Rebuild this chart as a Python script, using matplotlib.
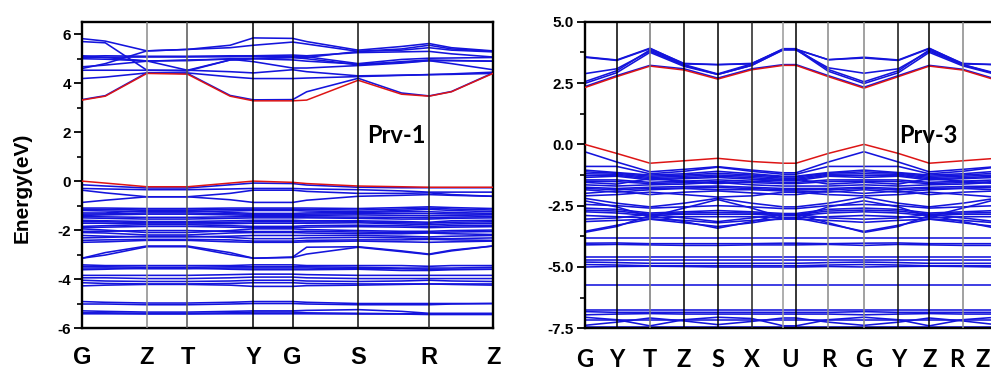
import matplotlib
matplotlib.use("Agg")
import matplotlib.pyplot as plt
from matplotlib.ticker import MultipleLocator, FormatStrFormatter

plt.rcParams['axes.unicode_minus'] = False

# ---- Prv-1 (left) : path positions G m Z T m Y G m S m R m Z
k_left = [0, 23.3, 65, 105.6, 148.3, 171.6, 211, 225, 276.6, 320, 347.6, 370, 411.6]
left_tick_idx = [0, 2, 3, 5, 6, 8, 10, 12]
left_labels = ['G', 'Z', 'T', 'Y', 'G', 'S', 'R', 'Z']
left_line_colors = ['#8a8a8a', '#555555', '#000000', '#000000', '#111111', '#222222']

left_cb_red = [3.31, 3.47, 4.40, 4.37, 3.47, 3.28, 3.28, 3.31, 4.12, 3.55, 3.47, 3.65, 4.40]
left_vb_red = [0.00, -0.08, -0.23, -0.23, -0.08, 0.00, -0.05, -0.10, -0.20, -0.23, -0.25, -0.25, -0.25]

left_cb = [
    [3.33, 3.49, 4.43, 4.40, 3.50, 3.32, 3.33, 3.65, 4.20, 3.60, 3.48, 3.66, 4.42],
    [4.19, 4.25, 4.42, 4.42, 4.26, 4.19, 4.19, 4.21, 4.27, 4.32, 4.35, 4.36, 4.40],
    [4.53, 4.53, 4.53, 4.53, 4.47, 4.42, 4.55, 4.47, 4.30, 4.33, 4.35, 4.38, 4.45],
    [4.67, 4.74, 4.90, 4.95, 4.98, 4.88, 4.62, 4.62, 4.72, 4.82, 4.92, 4.92, 4.90],
    [5.00, 4.98, 4.91, 4.92, 5.00, 5.02, 5.05, 5.00, 4.75, 4.88, 4.95, 4.93, 4.90],
    [5.05, 5.06, 5.07, 5.07, 5.08, 5.10, 5.10, 5.08, 4.80, 4.97, 5.02, 5.03, 5.05],
    [5.10, 5.12, 5.10, 5.10, 5.12, 5.12, 5.15, 5.12, 5.25, 5.28, 5.30, 5.20, 5.07],
    [5.70, 5.65, 4.53, 4.50, 4.95, 5.00, 5.05, 5.05, 5.30, 5.35, 5.45, 5.35, 5.28],
    [5.82, 5.72, 5.32, 5.38, 5.55, 5.85, 5.83, 5.70, 5.35, 5.50, 5.62, 5.45, 5.32],
    [4.60, 4.80, 5.32, 5.38, 5.45, 5.55, 5.68, 5.60, 5.30, 5.40, 5.55, 5.40, 5.30],
    [5.12, 5.05, 4.91, 4.53, 4.95, 5.00, 4.95, 4.90, 4.78, 4.85, 4.92, 4.80, 4.55],
]

left_vb = [
    [-0.15, -0.20, -0.28, -0.28, -0.15, -0.08, -0.10, -0.16, -0.25, -0.27, -0.27, -0.27, -0.27],
    [-0.30, -0.32, -0.35, -0.35, -0.32, -0.30, -0.30, -0.32, -0.35, -0.40, -0.45, -0.45, -0.45],
    [-0.37, -0.48, -0.64, -0.64, -0.50, -0.37, -0.37, -0.42, -0.50, -0.50, -0.48, -0.55, -0.62],
    [-0.87, -0.78, -0.64, -0.64, -0.76, -0.87, -0.87, -0.78, -0.62, -0.58, -0.55, -0.58, -0.62],
    [-1.10, -1.10, -1.12, -1.12, -1.10, -1.10, -1.10, -1.10, -1.12, -1.08, -1.05, -1.08, -1.12],
    [-1.15, -1.16, -1.18, -1.18, -1.16, -1.15, -1.15, -1.16, -1.18, -1.14, -1.10, -1.14, -1.18],
    [-1.20, -1.22, -1.25, -1.25, -1.22, -1.20, -1.20, -1.22, -1.25, -1.20, -1.15, -1.20, -1.25],
    [-1.30, -1.30, -1.20, -1.20, -1.28, -1.32, -1.32, -1.30, -1.28, -1.25, -1.25, -1.28, -1.32],
    [-1.35, -1.34, -1.30, -1.30, -1.33, -1.36, -1.36, -1.35, -1.33, -1.32, -1.33, -1.34, -1.35],
    [-1.40, -1.38, -1.35, -1.35, -1.38, -1.40, -1.40, -1.40, -1.38, -1.40, -1.42, -1.40, -1.38],
    [-1.45, -1.46, -1.48, -1.48, -1.46, -1.45, -1.45, -1.46, -1.47, -1.48, -1.50, -1.47, -1.45],
    [-1.50, -1.52, -1.55, -1.55, -1.52, -1.50, -1.50, -1.50, -1.52, -1.55, -1.55, -1.52, -1.50],
    [-1.60, -1.62, -1.65, -1.65, -1.62, -1.60, -1.60, -1.62, -1.62, -1.65, -1.68, -1.62, -1.60],
    [-1.66, -1.66, -1.70, -1.70, -1.68, -1.66, -1.66, -1.67, -1.66, -1.70, -1.72, -1.68, -1.66],
    [-1.72, -1.72, -1.75, -1.75, -1.74, -1.72, -1.72, -1.72, -1.70, -1.75, -1.78, -1.75, -1.72],
    [-1.85, -1.82, -1.78, -1.78, -1.82, -1.85, -1.85, -1.82, -1.80, -1.82, -1.85, -1.82, -1.80],
    [-1.90, -1.88, -1.85, -1.85, -1.88, -1.90, -1.90, -1.88, -1.86, -1.88, -1.90, -1.88, -1.86],
    [-1.95, -2.00, -2.10, -2.10, -2.02, -1.95, -1.95, -1.98, -2.02, -2.05, -2.05, -2.02, -2.00],
    [-2.05, -2.05, -2.02, -2.02, -2.05, -2.06, -2.06, -2.05, -2.08, -2.10, -2.10, -2.08, -2.06],
    [-2.10, -2.12, -2.20, -2.20, -2.12, -2.10, -2.10, -2.12, -2.15, -2.15, -2.12, -2.15, -2.18],
    [-2.22, -2.25, -2.28, -2.28, -2.25, -2.22, -2.22, -2.22, -2.22, -2.25, -2.28, -2.25, -2.22],
    [-2.32, -2.30, -2.25, -2.25, -2.30, -2.35, -2.35, -2.32, -2.30, -2.32, -2.35, -2.35, -2.32],
    [-2.42, -2.40, -2.38, -2.38, -2.40, -2.45, -2.45, -2.42, -2.40, -2.40, -2.38, -2.40, -2.42],
    [-2.50, -2.48, -2.42, -2.42, -2.48, -2.50, -2.50, -2.48, -2.45, -2.48, -2.50, -2.48, -2.45],
    [-3.15, -3.02, -2.68, -2.68, -3.00, -3.15, -3.12, -2.98, -2.70, -2.88, -3.00, -2.85, -2.65],
    [-3.15, -2.92, -2.65, -2.65, -2.92, -3.15, -3.10, -2.70, -2.68, -2.85, -2.98, -2.82, -2.65],
    [-3.42, -3.45, -3.45, -3.45, -3.45, -3.42, -3.42, -3.45, -3.45, -3.45, -3.48, -3.45, -3.45],
    [-3.48, -3.50, -3.52, -3.52, -3.50, -3.50, -3.50, -3.50, -3.52, -3.55, -3.55, -3.55, -3.52],
    [-3.55, -3.55, -3.58, -3.58, -3.55, -3.55, -3.55, -3.55, -3.58, -3.58, -3.60, -3.60, -3.60],
    [-3.62, -3.60, -3.55, -3.55, -3.60, -3.62, -3.62, -3.62, -3.60, -3.65, -3.65, -3.62, -3.60],
    [-3.85, -3.85, -3.85, -3.85, -3.82, -3.80, -3.80, -3.82, -3.85, -3.85, -3.85, -3.85, -3.85],
    [-3.95, -3.95, -3.98, -3.98, -3.95, -3.92, -3.92, -3.95, -3.98, -3.98, -3.98, -3.98, -3.98],
    [-4.05, -4.08, -4.10, -4.10, -4.08, -4.05, -4.05, -4.08, -4.10, -4.08, -4.05, -4.08, -4.10],
    [-4.15, -4.18, -4.20, -4.20, -4.18, -4.15, -4.15, -4.18, -4.20, -4.20, -4.20, -4.20, -4.20],
    [-4.28, -4.25, -4.22, -4.22, -4.25, -4.30, -4.30, -4.27, -4.25, -4.22, -4.20, -4.22, -4.25],
    [-4.92, -4.95, -4.98, -4.98, -4.95, -4.92, -4.92, -4.95, -5.00, -5.00, -5.00, -5.00, -5.00],
    [-5.02, -5.02, -5.05, -5.05, -5.02, -5.00, -5.00, -5.02, -5.05, -5.05, -5.05, -5.02, -5.00],
    [-5.30, -5.32, -5.35, -5.35, -5.32, -5.30, -5.30, -5.28, -5.25, -5.32, -5.40, -5.40, -5.40],
    [-5.38, -5.38, -5.40, -5.40, -5.38, -5.35, -5.35, -5.38, -5.40, -5.42, -5.42, -5.42, -5.42],
    [-5.42, -5.42, -5.43, -5.43, -5.42, -5.42, -5.42, -5.42, -5.43, -5.43, -5.45, -5.45, -5.45],
]

# ---- Prv-3 (right) : G Y T Z S X U U R G Y Z R Z
k_right = [0, 32.2, 65.5, 99.5, 133.2, 167.2, 198.8, 211.5, 243.8, 279.5, 313.8, 344.8, 378.2, 411.5]
right_labels = ['G', 'Y', 'T', 'Z', 'S', 'X', 'U', 'R', 'G', 'Y', 'Z', 'R', 'Z']
right_label_pos = [0, 32.2, 65.5, 99.5, 133.2, 167.2, 205.2, 243.8, 279.5, 313.8, 344.8, 372, 398]
right_line_colors = ['#000000', '#777777', '#000000', '#000000', '#222222', '#999999',
                     '#000000', '#888888', '#888888', '#111111', '#000000', '#888888']

right_cb_red = [2.31, 2.76, 3.19, 3.03, 2.66, 3.04, 3.22, 3.22, 2.76, 2.29, 2.76, 3.19, 3.03, 2.62]
right_vb_red = [0.00, -0.37, -0.77, -0.67, -0.57, -0.70, -0.77, -0.77, -0.37, 0.00, -0.37, -0.77, -0.67, -0.57]

right_cb = [
    [2.35, 2.80, 3.22, 3.08, 2.70, 3.08, 3.25, 3.25, 2.80, 2.33, 2.80, 3.22, 3.06, 2.66],
    [2.48, 2.92, 3.75, 3.18, 2.85, 3.22, 3.87, 3.87, 2.98, 2.48, 2.92, 3.75, 3.20, 2.85],
    [2.55, 3.00, 3.85, 3.25, 2.87, 3.28, 3.90, 3.90, 3.05, 2.55, 3.00, 3.85, 3.25, 2.87],
    [2.88, 3.08, 3.80, 3.22, 2.85, 3.22, 3.85, 3.85, 3.12, 2.90, 3.08, 3.80, 3.25, 2.90],
    [3.57, 3.44, 3.92, 3.28, 3.25, 3.28, 3.87, 3.87, 3.45, 3.55, 3.44, 3.92, 3.28, 3.25],
    [3.55, 3.42, 3.90, 3.30, 3.25, 3.30, 3.88, 3.88, 3.45, 3.52, 3.42, 3.90, 3.30, 3.25],
]

right_vb = [
    [-0.30, -0.72, -1.12, -1.02, -0.91, -1.05, -1.16, -1.16, -0.72, -0.30, -0.72, -1.12, -1.02, -0.91],
    [-0.90, -0.90, -1.20, -1.10, -0.93, -1.10, -1.22, -1.22, -0.90, -0.90, -0.90, -1.20, -1.10, -0.93],
    [-1.05, -1.15, -1.25, -1.20, -1.10, -1.20, -1.30, -1.30, -1.15, -1.05, -1.15, -1.25, -1.20, -1.10],
    [-1.12, -1.18, -1.30, -1.25, -1.18, -1.25, -1.33, -1.33, -1.18, -1.12, -1.18, -1.30, -1.25, -1.18],
    [-1.20, -1.22, -1.35, -1.30, -1.25, -1.30, -1.38, -1.38, -1.22, -1.20, -1.22, -1.35, -1.30, -1.25],
    [-1.28, -1.26, -1.40, -1.36, -1.30, -1.36, -1.43, -1.43, -1.26, -1.28, -1.26, -1.40, -1.36, -1.30],
    [-1.35, -1.30, -1.45, -1.40, -1.35, -1.42, -1.48, -1.48, -1.30, -1.35, -1.30, -1.45, -1.40, -1.35],
    [-1.45, -1.45, -1.55, -1.50, -1.45, -1.50, -1.55, -1.55, -1.45, -1.45, -1.45, -1.55, -1.50, -1.45],
    [-1.50, -1.52, -1.60, -1.56, -1.52, -1.56, -1.60, -1.60, -1.52, -1.50, -1.52, -1.60, -1.56, -1.52],
    [-1.55, -1.62, -1.40, -1.50, -1.60, -1.52, -1.42, -1.42, -1.62, -1.55, -1.62, -1.40, -1.50, -1.60],
    [-1.65, -1.70, -1.65, -1.62, -1.55, -1.65, -1.70, -1.70, -1.70, -1.65, -1.70, -1.65, -1.62, -1.55],
    [-1.75, -1.80, -1.75, -1.72, -1.70, -1.75, -1.80, -1.80, -1.80, -1.75, -1.80, -1.75, -1.72, -1.70],
    [-1.80, -1.85, -1.80, -1.78, -1.76, -1.80, -1.85, -1.85, -1.85, -1.80, -1.85, -1.80, -1.78, -1.76],
    [-1.85, -1.95, -1.85, -1.80, -1.85, -1.85, -1.90, -1.90, -1.95, -1.85, -1.95, -1.85, -1.80, -1.85],
    [-2.00, -1.90, -2.05, -1.95, -1.90, -1.98, -2.05, -2.05, -1.90, -2.00, -1.90, -2.05, -1.95, -1.90],
    [-2.10, -2.05, -1.95, -2.05, -2.15, -2.10, -1.95, -1.95, -2.05, -2.10, -2.05, -1.95, -2.05, -2.15],
    [-2.30, -2.55, -2.95, -2.60, -2.25, -2.60, -2.98, -2.98, -2.55, -2.30, -2.55, -2.95, -2.60, -2.25],
    [-2.20, -2.40, -2.55, -2.40, -2.20, -2.40, -2.55, -2.55, -2.40, -2.15, -2.40, -2.55, -2.40, -2.20],
    [-2.45, -2.50, -2.60, -2.55, -2.50, -2.55, -2.62, -2.62, -2.50, -2.45, -2.50, -2.60, -2.55, -2.50],
    [-2.60, -2.65, -2.80, -2.75, -2.70, -2.75, -2.82, -2.82, -2.65, -2.60, -2.65, -2.80, -2.75, -2.70],
    [-2.68, -2.72, -2.85, -2.80, -2.78, -2.80, -2.86, -2.86, -2.72, -2.68, -2.72, -2.85, -2.80, -2.78],
    [-2.75, -2.80, -2.90, -2.85, -2.85, -2.85, -2.90, -2.90, -2.80, -2.75, -2.80, -2.90, -2.85, -2.85],
    [-2.90, -2.95, -3.00, -2.95, -2.95, -2.95, -3.00, -3.00, -2.95, -2.90, -2.95, -3.00, -2.95, -2.95],
    [-3.05, -3.00, -2.85, -3.00, -3.15, -3.00, -2.85, -2.85, -3.00, -3.05, -3.00, -2.85, -3.00, -3.15],
    [-3.15, -3.10, -3.05, -3.10, -3.20, -3.10, -3.05, -3.05, -3.10, -3.18, -3.10, -3.05, -3.10, -3.20],
    [-3.59, -3.35, -2.90, -3.15, -3.42, -3.15, -2.85, -2.85, -3.20, -3.59, -3.35, -2.90, -3.15, -3.42],
    [-3.55, -3.30, -3.05, -3.20, -3.35, -3.20, -3.00, -3.00, -3.25, -3.55, -3.30, -3.05, -3.20, -3.35],
    [-3.83, -3.83, -3.83, -3.83, -3.83, -3.83, -3.83, -3.83, -3.83, -3.83, -3.83, -3.83, -3.83, -3.83],
    [-4.03, -4.02, -4.05, -4.05, -4.05, -4.05, -4.03, -4.03, -4.05, -4.03, -4.02, -4.05, -4.05, -4.05],
    [-4.10, -4.08, -4.10, -4.12, -4.12, -4.10, -4.10, -4.10, -4.08, -4.12, -4.08, -4.10, -4.12, -4.12],
    [-4.58, -4.58, -4.58, -4.58, -4.58, -4.58, -4.58, -4.58, -4.58, -4.58, -4.58, -4.58, -4.58, -4.58],
    [-4.72, -4.72, -4.72, -4.72, -4.72, -4.72, -4.72, -4.72, -4.72, -4.72, -4.72, -4.72, -4.72, -4.72],
    [-4.80, -4.82, -4.85, -4.85, -4.85, -4.85, -4.85, -4.85, -4.82, -4.80, -4.82, -4.85, -4.85, -4.85],
    [-4.90, -4.92, -4.95, -4.95, -4.95, -4.95, -4.95, -4.95, -4.92, -4.90, -4.92, -4.95, -4.95, -4.95],
    [-5.00, -4.98, -4.97, -4.98, -5.00, -5.00, -5.00, -5.00, -4.98, -5.00, -4.98, -4.97, -4.98, -5.00],
    [-5.73, -5.73, -5.73, -5.73, -5.73, -5.73, -5.73, -5.73, -5.73, -5.73, -5.73, -5.73, -5.73, -5.73],
    [-6.75, -6.75, -6.75, -6.75, -6.75, -6.75, -6.75, -6.75, -6.75, -6.75, -6.75, -6.75, -6.75, -6.75],
    [-6.82, -6.85, -6.85, -6.85, -6.85, -6.85, -6.85, -6.85, -6.85, -6.82, -6.85, -6.85, -6.85, -6.85],
    [-6.95, -6.92, -6.90, -6.92, -6.92, -6.92, -6.92, -6.92, -6.92, -6.95, -6.92, -6.90, -6.92, -6.92],
    [-7.05, -7.15, -7.40, -7.15, -7.05, -7.10, -7.40, -7.40, -7.15, -7.05, -7.15, -7.40, -7.15, -7.05],
    [-7.15, -7.15, -7.15, -7.15, -7.15, -7.15, -7.15, -7.15, -7.15, -7.15, -7.15, -7.15, -7.15, -7.15],
    [-7.38, -7.25, -7.08, -7.20, -7.35, -7.22, -7.08, -7.08, -7.25, -7.38, -7.25, -7.08, -7.20, -7.35],
    [-7.45, -7.45, -7.45, -7.45, -7.45, -7.45, -7.45, -7.45, -7.45, -7.45, -7.45, -7.45, -7.45, -7.45],
]

BLUE = '#1414dc'
RED = '#dd1515'


def style_axis(ax, major, minor, fmt):
    ax.yaxis.set_major_locator(MultipleLocator(major))
    ax.yaxis.set_minor_locator(MultipleLocator(minor))
    ax.yaxis.set_major_formatter(FormatStrFormatter(fmt))
    ax.tick_params(axis='y', which='major', direction='out', length=6, width=1.3, pad=2)
    ax.tick_params(axis='y', which='minor', direction='out', length=3.5, width=1.2)
    ax.tick_params(axis='x', length=0)
    for lab in ax.get_yticklabels():
        lab.set_fontfamily('Liberation Sans')
        lab.set_fontweight('bold')
        lab.set_fontsize(11)
    for sp in ax.spines.values():
        sp.set_linewidth(1.7)


def draw_bands(ax, k, cb, vb, cb_red, vb_red):
    for band in cb + vb:
        ax.plot(k, band, color=BLUE, lw=1.15, zorder=2)
    ax.plot(k, cb_red, color=RED, lw=1.1, zorder=3)
    ax.plot(k, vb_red, color=RED, lw=1.1, zorder=3)


fig = plt.figure(figsize=(9.91, 3.70), dpi=100)

# left panel
ax1 = fig.add_axes([82 / 991, 1 - 328 / 370, 411 / 991, 306 / 370])
draw_bands(ax1, k_left, left_cb, left_vb, left_cb_red, left_vb_red)
for xi, c in zip([k_left[i] for i in left_tick_idx[1:-1]], left_line_colors):
    ax1.axvline(xi, color=c, lw=1.1, zorder=4)
ax1.set_xlim(k_left[0], k_left[-1])
ax1.set_ylim(-6, 6.5)
style_axis(ax1, 2, 1, '%d')
ax1.set_xticks([k_left[i] for i in left_tick_idx])
ax1.set_xticklabels(left_labels, fontfamily='Liberation Sans', fontweight='bold', fontsize=17)
ax1.tick_params(axis='x', pad=13)
ax1.text(0.693, 0.63, 'Prv-1', transform=ax1.transAxes, fontfamily='Lato',
         fontweight='bold', fontsize=17, va='center', ha='left')
fig.text(22 / 991, 1 - 188 / 370, 'Energy(eV)', rotation=90, ha='center', va='center',
         fontfamily='Liberation Sans', fontweight='bold', fontsize=15)

# right panel
ax2 = fig.add_axes([584.5 / 991, 1 - 328.3 / 370, 411.5 / 991, 306.6 / 370])
draw_bands(ax2, k_right, right_cb, right_vb, right_cb_red, right_vb_red)
for xi, c in zip(k_right[1:-1], right_line_colors):
    ax2.axvline(xi, color=c, lw=1.1, zorder=4)
ax2.set_xlim(k_right[0], k_right[-1])
ax2.set_ylim(-7.5, 5.0)
style_axis(ax2, 2.5, 1.25, '%.1f')
ax2.set_xticks(right_label_pos)
ax2.set_xticklabels(right_labels, fontfamily='Lato', fontweight='bold', fontsize=17)
ax2.tick_params(axis='x', pad=14)
ax2.text(0.764, 0.63, 'Prv-3', transform=ax2.transAxes, fontfamily='Lato',
         fontweight='bold', fontsize=17, va='center', ha='left')

fig.savefig('out.png', dpi=100)
